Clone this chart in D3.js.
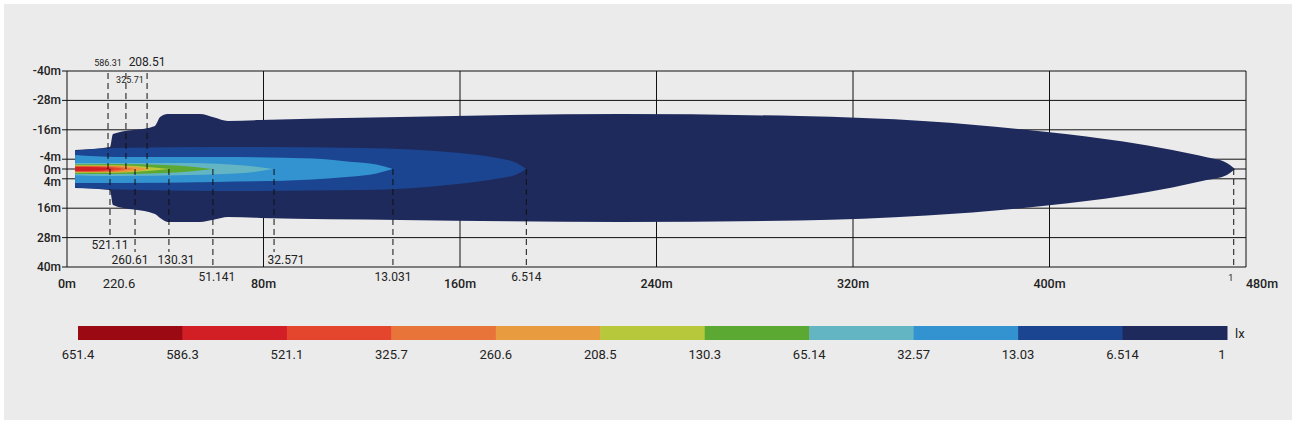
<!DOCTYPE html>
<html><head><meta charset="utf-8">
<script src="https://cdn.jsdelivr.net/npm/d3@7"></script>
<style>body{margin:0;background:#fff}svg{display:block}text{font-family:Roboto,"DejaVu Sans",sans-serif;fill:#222}</style>
</head><body><svg id="c" width="1296" height="424"></svg>
<script>
const yTicks=[-40,-28,-16,-4,0,4,16,28,40];
const xTicks=[0,80,160,240,320,400,480];
const legendLabels=["651.4","586.3","521.1","325.7","260.6","208.5","130.3","65.14","32.57","13.03","6.514","1"];
const legendColors=["#9b0a12","#d21f26","#e4462d","#e8743a","#e89c3f","#b7c93b","#5ba833","#63b5c4","#3393d0","#1b4590","#1f2a5c"];
const contours=[
 {c:"#1f2a5c",pts:[[3.3,-7.8,7.8],[17.5,-9,8.6],[18.7,-14.3,14.7],[35.8,-17.6,18.4],[37.9,-21.2,20],[41,-22.4,21.6],[54,-22.4,21.6],[60,-21,20.6],[65.5,-19.6,19.6],[78.6,-20,20],[135.6,-21.2,20.8],[180,-22,21.3],[225,-22.4,21.6],[298,-21.6,21],[350,-19.5,19],[400,-15,14.8],[430,-11.2,11],[450,-7.8,7.5],[464,-4.8,4.5],[472,-2.6,2.5],[475.5,0,0]]},
 {c:"#1b4590",pts:[[3.3,-7.5,7.5],[20,-8.6,8.4],[60,-9,9],[120,-8.6,8.6],[160,-6.5,6],[175,-4.5,4],[183,-2.5,2.2],[187,0,0]]},
 {c:"#3393d0",pts:[[3.3,-5.7,5.7],[20,-4.9,5.7],[60,-4.9,5.3],[100,-4.3,4.3],[115,-3,3.2],[126,-1.8,1.8],[132.7,0,0]]},
 {c:"#63b5c4",pts:[[3.3,-2.5,2.5],[20,-2.5,2.9],[50,-2.4,2.4],[72,-1.4,1.6],[84,0,0]]},
 {c:"#5ba833",pts:[[3.3,-1.8,1.9],[20,-2,2],[40,-1.6,1.6],[52,-0.8,0.8],[59.4,0,0]]},
 {c:"#b7c93b",pts:[[3.3,-1.5,1.5],[20,-1.5,1.5],[33,-0.8,0.8],[42,0,0]]},
 {c:"#e89c3f",pts:[[3.3,-1.3,1.3],[20,-1.3,1.3],[30,-0.6,0.6],[34,0,0]]},
 {c:"#e8743a",pts:[[3.3,-1.2,1.2],[18,-1.1,1.1],[27.7,0,0]]},
 {c:"#e4462d",pts:[[3.3,-1,1],[15,-0.9,0.9],[24,0,0]]},
 {c:"#d21f26",pts:[[3.3,-0.8,0.8],[12,-0.7,0.7],[19.5,0,0]]}
];
const markers=[[16.7,"586.31","top",66,9,0],[24,"325.71","top",83,9,4],[32.6,"208.51","top",66,12,0],[17.5,"521.11","bot",249,12,0],[27.7,"260.61","bot",264,12,-5],[41.5,"130.31","bot",264,12,7],[59.4,"51.141","bot",281,12,4],[84.3,"32.571","bot",264,12,12],[132.7,"13.031","bot",281,12,0],[187,"6.514","bot",281,12,0],[475,"1","bot",281,9,-3]];
const svg=d3.select("#c");
svg.append("rect").attr("x",4).attr("y",4).attr("width",1288).attr("height",416).attr("fill","#ebebeb");
const x=d3.scaleLinear().domain([0,480]).range([67,1246]);
const y=d3.scaleLinear().domain([-40,40]).range([71,267]);
svg.append("g").selectAll("line").data(yTicks).join("line").attr("x1",62).attr("x2",1246).attr("y1",d=>y(d)).attr("y2",d=>y(d)).attr("stroke","#111");
svg.append("g").selectAll("line").data(xTicks).join("line").attr("x1",d=>x(d)).attr("x2",d=>x(d)).attr("y1",71).attr("y2",267).attr("stroke","#111");
contours.forEach(k=>{
 const a=d3.area().x(d=>x(d[0])).y0(d=>y(d[2])).y1(d=>y(d[1])).curve(d3.curveMonotoneX);
 svg.append("path").attr("d",a(k.pts)).attr("fill",k.c);
});
markers.forEach(m=>{
 const X=x(m[0]);
 if(m[2]=="top") svg.append("line").attr("x1",X).attr("x2",X).attr("y1",73).attr("y2",y(0)).attr("stroke","#111").attr("stroke-dasharray","6,4");
 else svg.append("line").attr("x1",X).attr("x2",X).attr("y1",y(0)).attr("y2",m[3]-12).attr("stroke","#111").attr("stroke-dasharray","6,4");
 svg.append("text").attr("x",X+m[5]).attr("y",m[3]).attr("text-anchor","middle").attr("font-size",m[4]).style("fill","#222").text(m[1]);
});
svg.append("text").attr("x",119).attr("y",288).attr("text-anchor","middle").attr("font-size",13).text("220.6");
const yOff={"-4":-8,"0":5,"4":17};
svg.append("g").selectAll("text").data(yTicks).join("text").attr("x",61).attr("y",d=>(d in yOff? y(0)+yOff[d]: y(d)+4)).attr("text-anchor","end").attr("font-size",12).attr("font-weight",500).text(d=>d+"m");
svg.append("g").selectAll("text").data(xTicks).join("text").attr("x",d=>d==480?x(d)+16:x(d)).attr("y",288).attr("text-anchor","middle").attr("font-size",12.5).attr("font-weight",500).text(d=>d+"m");
const lx=d3.scaleLinear().domain([0,11]).range([78,1227]);
svg.append("g").selectAll("rect").data(legendColors).join("rect").attr("x",(d,i)=>lx(i)).attr("y",326).attr("width",lx(1)-lx(0)+0.5).attr("height",14).attr("fill",d=>d);
svg.append("g").selectAll("text").data(legendLabels).join("text").attr("x",(d,i)=>i==11?1222:lx(i)).attr("y",359).attr("text-anchor","middle").attr("font-size",13).text(d=>d);
svg.append("text").attr("x",1235).attr("y",338).attr("font-size",13).text("lx");
</script></body></html>
